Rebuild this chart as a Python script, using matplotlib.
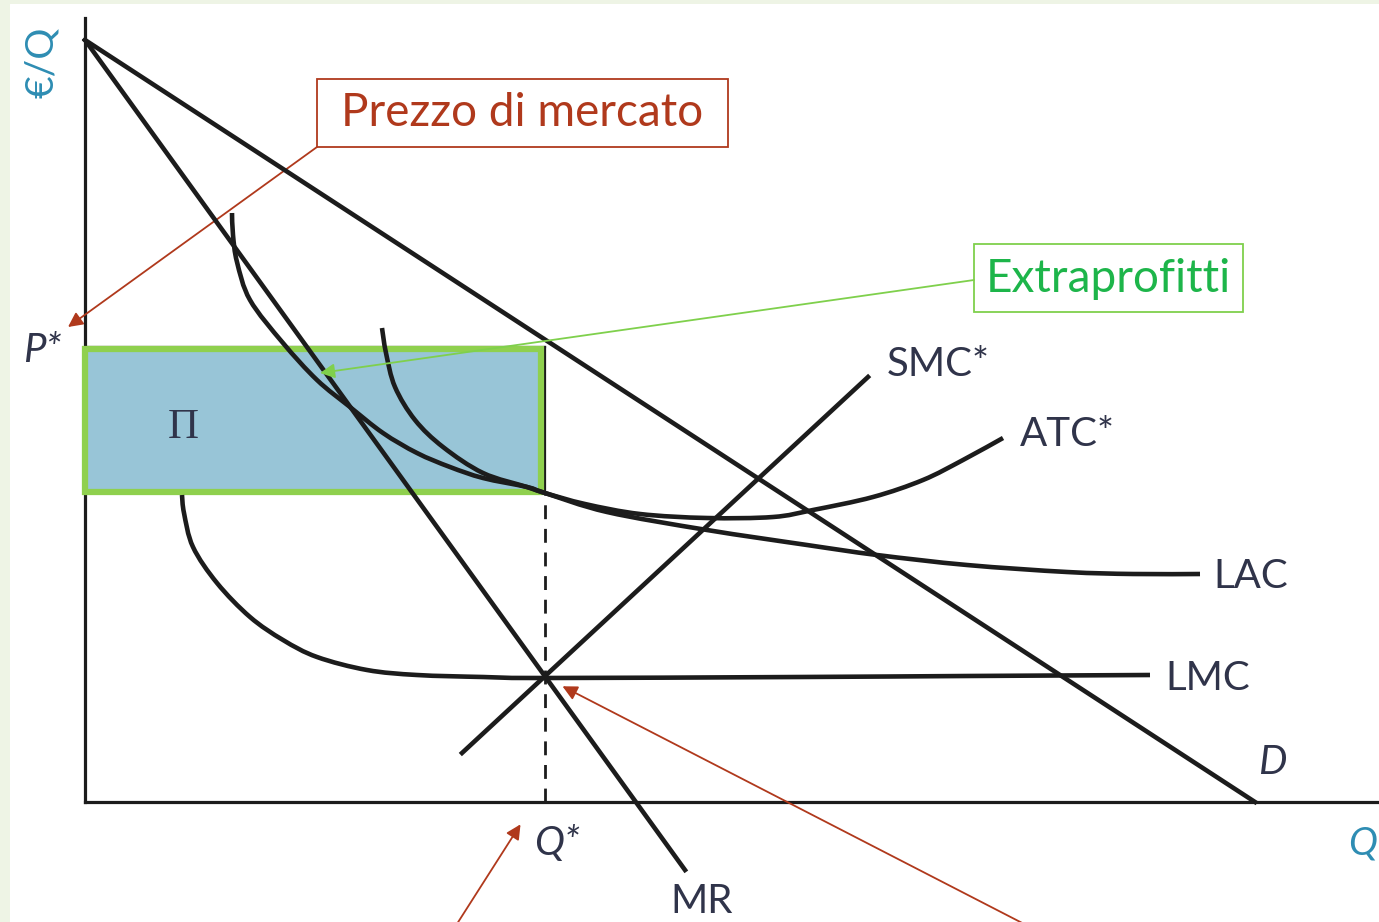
# Diagramma: monopolio nel breve periodo con extraprofitti
import numpy as np
import matplotlib.pyplot as plt
from matplotlib.patches import Rectangle, PathPatch
from matplotlib.path import Path

# Curve (Q, €/Q)
d_q = [0.0, 117.0]
d_p = [76.2, 0.0]

mr_q = [0.0, 60.0]
mr_p = [76.2, -6.8]

smc_q = [37.7, 78.3]
smc_p = [4.9, 42.5]

lac_q = [14.7, 14.8, 15.2, 16.5, 19.8, 23.2, 26.5, 29.8, 33.2, 36.5, 39.8, 44.2, 46.0,
         52.2, 62.2, 72.2, 79.2, 88.2, 98.2, 104.8, 111.5]
lac_p = [58.9, 56.7, 54.0, 50.2, 45.9, 42.2, 39.5, 36.9, 34.9, 33.5, 32.4, 31.5, 30.9,
         29.0, 27.2, 25.7, 24.7, 23.7, 23.0, 22.8, 22.8]

atc_q = [29.7, 30.1, 31.0, 33.0, 35.8, 39.8, 44.2, 46.0, 50.0, 55.5, 62.2, 68.8, 72.8,
         78.8, 83.8, 87.8, 91.8]
atc_p = [47.4, 44.9, 41.5, 38.2, 35.5, 32.9, 31.5, 30.9, 29.8, 28.8, 28.4, 28.5, 29.2,
         30.5, 32.2, 34.2, 36.4]

lmc_q = [9.7, 9.9, 10.8, 13.2, 16.5, 19.8, 23.2, 28.2, 33.2, 39.8, 45.8, 71.5, 88.2, 106.5]
lmc_p = [30.7, 28.9, 25.5, 21.9, 18.5, 16.2, 14.5, 13.2, 12.7, 12.5, 12.4, 12.5, 12.6, 12.7]

# Equilibrio
q_star = 46.0
p_star = 45.5
atc_star = 31.0

label_font = "Lato"
text_col = "#30344a"
teal = "#2e8db3"
red = "#b0391c"
green_line = "#7fd04c"
green_text = "#1db54a"
k = "#1c1c1c"
lw = 3.3


def smooth_curve(ax, xs, ys, **kw):
    """Curva liscia (Catmull-Rom come segmenti di Bézier) attraverso i punti letti."""
    pts = np.column_stack([xs, ys])
    verts = [pts[0]]
    codes = [Path.MOVETO]
    n = len(pts)
    for i in range(n - 1):
        p0 = pts[i - 1] if i > 0 else pts[i]
        p1, p2 = pts[i], pts[i + 1]
        p3 = pts[i + 2] if i + 2 < n else pts[i + 1]
        verts += [p1 + (p2 - p0) / 6, p2 - (p3 - p1) / 6, p2]
        codes += [Path.CURVE4] * 3
    ax.add_patch(PathPatch(Path(verts, codes), fill=False, **kw))


fig = plt.figure(figsize=(13.79, 9.22), dpi=100, facecolor="#eef4e5")
ax = fig.add_axes([10 / 1379, 0, 1369 / 1379, 918 / 922])
ax.set_xlim(-7.5, 129.4)
ax.set_ylim(-12.0, 79.8)
ax.axis("off")
ax.add_patch(Rectangle((0, 0), 1, 1, transform=ax.transAxes, color="white", zorder=0))

# Assi
ax.plot([0, 0], [0, 78.4], color=k, lw=2.3)
ax.plot([0, 130], [0, 0], color=k, lw=2.3)

# Area extraprofitti
ax.add_patch(Rectangle((0, atc_star), q_star - 0.4, p_star - atc_star - 0.2,
                       facecolor="#98c5d7", edgecolor="#8fd04e", lw=4.5, zorder=2))
ax.plot([0, q_star], [p_star, p_star], color=k, lw=1.6, zorder=1.5)
ax.plot([q_star, q_star], [atc_star, p_star], color=k, lw=1.6, zorder=1.5)
ax.plot([q_star, q_star], [0, atc_star], color=k, lw=2.0, ls=(0, (5, 3.5)), zorder=3)

# Curve
ax.plot(d_q, d_p, color=k, lw=lw, zorder=4)
ax.plot(mr_q, mr_p, color=k, lw=lw, zorder=4)
ax.plot(smc_q, smc_p, color=k, lw=lw, zorder=4)
smooth_curve(ax, lac_q, lac_p, edgecolor=k, lw=lw, zorder=4, capstyle="butt")
smooth_curve(ax, atc_q, atc_p, edgecolor=k, lw=lw, zorder=4, capstyle="butt")
smooth_curve(ax, lmc_q, lmc_p, edgecolor=k, lw=lw, zorder=4, capstyle="butt")

# Testi degli assi e delle curve
ax.text(-4.3, 74.0, "€/Q", color=teal, fontsize=28, family=label_font,
        rotation=90, ha="center", va="center")
ax.text(129.2, -4.1, "Q", color=teal, fontsize=28, family=label_font, style="italic",
        ha="right", va="center")
ax.text(-4.3, 45.2, "P*", color=text_col, fontsize=29, family=label_font, style="italic",
        ha="center", va="center")
ax.text(47.2, -4.1, "Q*", color=text_col, fontsize=29, family=label_font, style="italic",
        ha="center", va="center")
ax.text(61.7, -9.9, "MR", color=text_col, fontsize=29, family=label_font,
        ha="center", va="center")
ax.text(118.7, 4.0, "D", color=text_col, fontsize=29, family=label_font, style="italic",
        ha="center", va="center")
ax.text(108.0, 12.4, "LMC", color=text_col, fontsize=29, family=label_font,
        ha="left", va="center")
ax.text(112.8, 22.5, "LAC", color=text_col, fontsize=29, family=label_font,
        ha="left", va="center")
ax.text(93.5, 36.7, "ATC*", color=text_col, fontsize=29, family=label_font,
        ha="left", va="center")
ax.text(80.2, 43.7, "SMC*", color=text_col, fontsize=29, family=label_font,
        ha="left", va="center")
ax.text(9.8, 37.4, "Π", color=text_col, fontsize=31, family="Liberation Serif",
        ha="center", va="center", zorder=5)

# Riquadri con frecce
ax.add_patch(Rectangle((23.2, 65.5), 41.1, 6.8, facecolor="white", edgecolor=red,
                       lw=1.3, zorder=6))
ax.text(43.75, 68.9, "Prezzo di mercato", color=red, fontsize=33, family=label_font,
        ha="center", va="center", zorder=7)
ax.annotate("", xy=(-1.7, 47.5), xytext=(23.2, 65.5),
            arrowprops=dict(arrowstyle="-|>", color=red, lw=1.3, mutation_scale=22,
                            shrinkA=0, shrinkB=0))

ax.add_patch(Rectangle((88.9, 49.0), 26.9, 6.8, facecolor="white", edgecolor=green_line,
                       lw=1.3, zorder=6))
ax.text(102.35, 52.3, "Extraprofitti", color=green_text, fontsize=33, family=label_font,
        ha="center", va="center", zorder=7)
ax.annotate("", xy=(23.5, 42.9), xytext=(88.9, 52.2),
            arrowprops=dict(arrowstyle="-|>", color=green_line, lw=1.3, mutation_scale=22,
                            shrinkA=0, shrinkB=0),
            zorder=6)

ax.annotate("", xy=(43.7, -2.0), xytext=(37.0, -12.5),
            arrowprops=dict(arrowstyle="-|>", color=red, lw=1.3, mutation_scale=22))
ax.annotate("", xy=(47.5, 11.7), xytext=(94.5, -12.5),
            arrowprops=dict(arrowstyle="-|>", color=red, lw=1.3, mutation_scale=22))

fig.savefig("out.png", dpi=100, facecolor=fig.get_facecolor())
